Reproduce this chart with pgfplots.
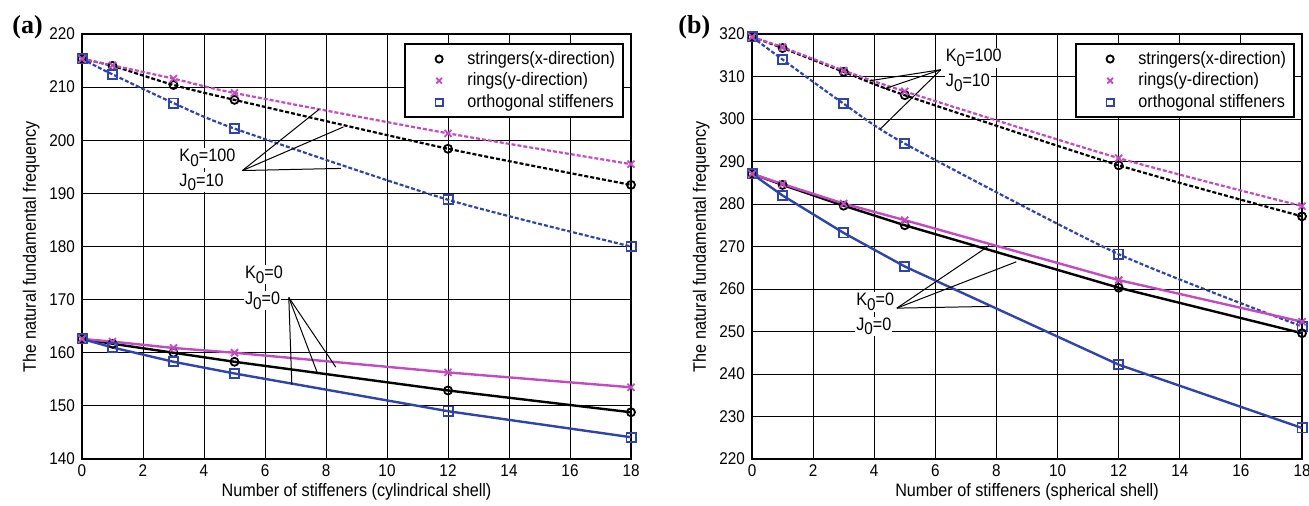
\documentclass[border=0pt]{standalone}
\usepackage{fontspec}
\setmainfont{Liberation Sans}[FakeStretch=0.9]
\newfontfamily\panelfont{Liberation Serif}
\usepackage{pgfplots}
\pgfplotsset{compat=1.18}

\definecolor{mag}{RGB}{192,76,192}
\definecolor{blu}{RGB}{48,68,168}

\newcommand{\sub}[1]{\raisebox{-0.5ex}{\fontsize{8.5}{9}\selectfont #1}}

\tikzset{
  ann/.style={font=\fontsize{9}{11}\selectfont, fill=white, inner sep=0.5pt, anchor=west},
}
\pgfplotsset{
  panel/.style={
    scale only axis, width=274.5pt, height=212.5pt, anchor=south west,
    xmin=0, xmax=18, xtick={0,2,...,18},
    grid=major, major grid style={black, line width=0.45pt},
    axis line style={line width=1pt}, tick style={draw=none},
    /pgf/number format/assume math mode=true,
    ticklabel style={font=\fontsize{8.5}{10}\selectfont},
    xticklabel style={yshift=0.5pt},
    label style={font=\fontsize{9}{11}\selectfont},
    xlabel style={yshift=3.5pt},
    ylabel={The natural fundamental frequency},
    ylabel style={yshift=-2pt},
    clip=false,
    legend style={at={(1,1)}, xshift=-3.5pt, yshift=-4.5pt, anchor=north east,
      draw=black, line width=1pt, fill=white, inner xsep=2pt, inner ysep=1.5pt,
      font=\fontsize{9}{11}\selectfont, row sep=-1.2pt},
    legend cell align=left,
    legend image code/.code={%
      \draw[opacity=0] (0cm,0cm) -- (0.93cm,0cm);
      \draw[##1] plot[only marks] coordinates {(0.52cm,0cm)};},
  },
  up/.style={line width=1.1pt, dash pattern=on 2pt off 1pt, smooth, tension=0.4,
    mark options={solid, line width=0.9pt}},
  lo/.style={line width=1.2pt, mark options={solid, line width=0.9pt}},
  sk/.style={color=black, mark=o, mark size=2pt},
  rg/.style={color=mag, mark=x, mark size=2.5pt},
  og/.style={color=blu, mark=square, mark size=2.3pt},
}

\begin{document}
\begin{tikzpicture}
\useasboundingbox (0,0) rectangle (654.5pt,252.5pt);

\node[anchor=base west, inner sep=0, font=\panelfont\bfseries\fontsize{13}{14}\selectfont] at (6pt,236pt) {(a)};
\node[anchor=base west, inner sep=0, font=\panelfont\bfseries\fontsize{13}{14}\selectfont] at (339pt,236pt) {(b)};

% ---------- (a) cylindrical shell ----------
\begin{axis}[panel, at={(41pt,23pt)},
  ymin=140, ymax=220, ytick={140,150,...,220},
  xlabel={Number of stiffeners (cylindrical shell)}]
\addlegendimage{mark=o, black, mark size=1.8pt, line width=0.9pt}
\addlegendentry{stringers(x-direction)}
\addlegendimage{mark=x, mag, mark size=2pt, line width=0.9pt}
\addlegendentry{rings(y-direction)}
\addlegendimage{mark=square, blu, mark size=1.8pt, line width=0.9pt}
\addlegendentry{orthogonal stiffeners}

\node[ann] at (axis cs:3.15,196.7) {K\sub{0}=100};
\node[ann] at (axis cs:3.15,192.1) {J\sub{0}=10};
\node[ann] at (axis cs:5.3,174.7) {K\sub{0}=0};
\node[ann] at (axis cs:5.3,169.8) {J\sub{0}=0};

% K0=100, J0=10
\addplot[up, sk, forget plot] coordinates {(0,215.3)(1,214.0)(3,210.4)(5,207.6)(12,198.4)(18,191.6)};
\addplot[up, rg, forget plot] coordinates {(0,215.3)(1,214.1)(3,211.6)(5,208.9)(12,201.3)(18,195.5)};
\addplot[up, og, forget plot] coordinates {(0,215.3)(1,212.4)(3,207.0)(5,202.2)(12,188.8)(18,180.0)};
% K0=0, J0=0
\addplot[lo, sk, forget plot] coordinates {(0,162.6)(1,161.7)(3,160.0)(5,158.3)(12,152.9)(18,148.8)};
\addplot[lo, rg, forget plot] coordinates {(0,162.6)(1,162.1)(3,160.9)(5,160.0)(12,156.3)(18,153.5)};
\addplot[lo, og, forget plot] coordinates {(0,162.6)(1,161.0)(3,158.3)(5,156.1)(12,149.0)(18,144.1)};

\draw[line width=0.5pt] (axis cs:5.26,194.3) -- (axis cs:7.77,205.8);
\draw[line width=0.5pt] (axis cs:5.26,194.3) -- (axis cs:8.57,202.5);
\draw[line width=0.5pt] (axis cs:5.26,194.3) -- (axis cs:8.49,194.7);
\draw[line width=0.5pt] (axis cs:6.78,170.4) -- (axis cs:8.32,157.3);
\draw[line width=0.5pt] (axis cs:6.78,170.4) -- (axis cs:7.73,156.0);
\draw[line width=0.5pt] (axis cs:6.78,170.4) -- (axis cs:6.88,154.0);
\end{axis}

% ---------- (b) spherical shell ----------
\begin{axis}[panel, at={(376pt,23pt)}, width=275pt,
  ymin=220, ymax=320, ytick={220,230,...,320},
  xlabel={Number of stiffeners (spherical shell)}]
\addlegendimage{mark=o, black, mark size=1.8pt, line width=0.9pt}
\addlegendentry{stringers(x-direction)}
\addlegendimage{mark=x, mag, mark size=2pt, line width=0.9pt}
\addlegendentry{rings(y-direction)}
\addlegendimage{mark=square, blu, mark size=1.8pt, line width=0.9pt}
\addlegendentry{orthogonal stiffeners}

\node[ann] at (axis cs:6.3,314.4) {K\sub{0}=100};
\node[ann] at (axis cs:6.3,308.5) {J\sub{0}=10};
\node[ann] at (axis cs:3.37,257.0) {K\sub{0}=0};
\node[ann] at (axis cs:3.37,251.2) {J\sub{0}=0};

% K0=100, J0=10
\addplot[up, sk, forget plot] coordinates {(0,319.3)(1,316.7)(3,311.1)(5,305.6)(12,289.1)(18,277.1)};
\addplot[up, rg, forget plot] coordinates {(0,319.3)(1,316.9)(3,311.4)(5,306.5)(12,290.8)(18,279.5)};
\addplot[up, og, forget plot] coordinates {(0,319.3)(1,314.0)(3,303.6)(5,294.2)(12,268.2)(18,251.2)};
% K0=0, J0=0
\addplot[lo, sk, forget plot] coordinates {(0,287.1)(1,284.5)(3,279.6)(5,275.0)(12,260.3)(18,249.6)};
\addplot[lo, rg, forget plot] coordinates {(0,287.1)(1,284.7)(3,280.1)(5,276.2)(12,262.1)(18,252.3)};
\addplot[lo, og, forget plot] coordinates {(0,287.1)(1,282.0)(3,273.2)(5,265.3)(12,242.2)(18,227.3)};

\draw[line width=0.5pt] (axis cs:6.18,311.6) -- (axis cs:3.85,309.0);
\draw[line width=0.5pt] (axis cs:6.18,311.6) -- (axis cs:4.33,307.1);
\draw[line width=0.5pt] (axis cs:6.18,311.6) -- (axis cs:4.19,297.6);
\draw[line width=0.5pt] (axis cs:4.74,255.5) -- (axis cs:7.76,270.2);
\draw[line width=0.5pt] (axis cs:4.74,255.5) -- (axis cs:8.65,266.4);
\draw[line width=0.5pt] (axis cs:4.74,255.5) -- (axis cs:7.76,255.9);
\end{axis}
\end{tikzpicture}
\end{document}
